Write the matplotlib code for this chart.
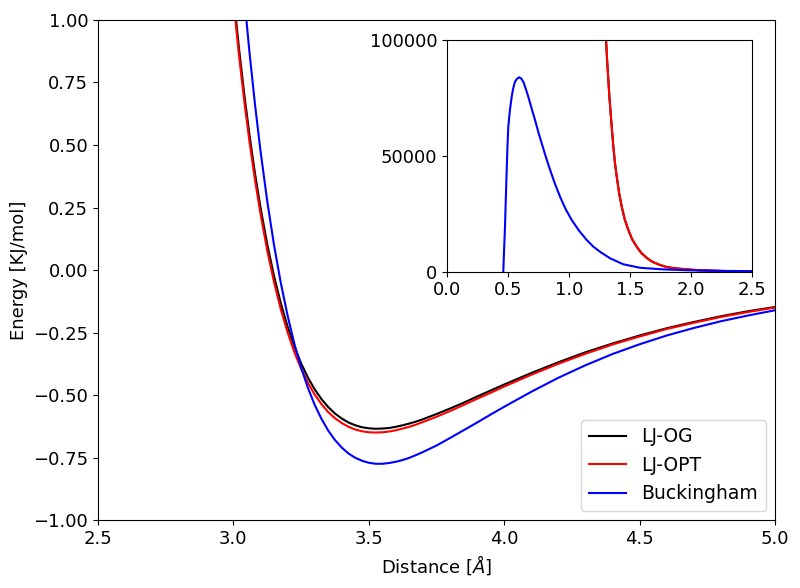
"""Lennard-Jones vs Buckingham pair potential comparison with zoomed-out inset."""

import matplotlib
matplotlib.use("Agg")
import matplotlib.pyplot as plt

# main panel: distance [A] and energies [KJ/mol]
dist = [3.00, 3.02, 3.04, 3.06, 3.08, 3.10,
        3.125, 3.15, 3.175, 3.20, 3.225, 3.25, 3.275, 3.30, 3.325, 3.35,
        3.375, 3.40, 3.425, 3.45, 3.475, 3.50, 3.525, 3.55, 3.575, 3.60,
        3.625, 3.65, 3.675, 3.70,
        3.75, 3.80, 3.85, 3.90, 3.95, 4.00,
        4.10, 4.20, 4.30, 4.40, 4.50, 4.60, 4.70, 4.80, 4.90, 5.00]

lj_og = [1.104, 0.893, 0.704, 0.535, 0.384, 0.250,
         0.103, -0.024, -0.133, -0.226, -0.306, -0.373, -0.430, -0.477,
         -0.516, -0.548, -0.574, -0.594, -0.610, -0.621, -0.629, -0.633,
         -0.635, -0.634, -0.632, -0.627, -0.621, -0.614, -0.606, -0.597,
         -0.576, -0.554, -0.531, -0.506, -0.482, -0.458,
         -0.412, -0.369, -0.329, -0.294, -0.262, -0.233, -0.208, -0.185,
         -0.165, -0.148]

lj_opt = [1.076, 0.865, 0.677, 0.508, 0.358, 0.225,
          0.078, -0.048, -0.157, -0.249, -0.328, -0.395, -0.451, -0.498,
          -0.536, -0.568, -0.593, -0.612, -0.627, -0.638, -0.645, -0.649,
          -0.650, -0.649, -0.646, -0.641, -0.634, -0.627, -0.618, -0.608,
          -0.587, -0.564, -0.540, -0.515, -0.491, -0.466,
          -0.419, -0.375, -0.335, -0.298, -0.266, -0.236, -0.211, -0.188,
          -0.168, -0.150]

buck = [1.622, 1.342, 1.090, 0.864, 0.660, 0.477,
        0.275, 0.100, -0.051, -0.182, -0.294, -0.390, -0.471, -0.539,
        -0.595, -0.642, -0.680, -0.710, -0.734, -0.751, -0.763, -0.771,
        -0.775, -0.775, -0.772, -0.767, -0.760, -0.751, -0.740, -0.728,
        -0.702, -0.672, -0.641, -0.610, -0.578, -0.547,
        -0.487, -0.431, -0.381, -0.336, -0.297, -0.262, -0.232, -0.205,
        -0.182, -0.161]

# inset: short-range behaviour
in_dist_buck = [0.455, 0.459, 0.466, 0.473, 0.480, 0.487, 0.493, 0.500,
                0.514, 0.528, 0.541, 0.555, 0.572, 0.590, 0.607, 0.623,
                0.643, 0.664, 0.691, 0.719, 0.746, 0.774, 0.808, 0.843,
                0.882, 0.924, 0.970, 1.020, 1.080, 1.143, 1.195, 1.252,
                1.334, 1.443, 1.580, 1.770, 1.989, 2.250, 2.500]
in_buck = [-20000, 0, 10000, 19400, 32000, 43900, 53500, 62600,
           70000, 75500, 79300, 82000, 83300, 83900, 83300, 82000,
           79000, 75500, 70500, 65500, 60300, 55400, 49500, 43900,
           38000, 32400, 27000, 22300, 17700, 13700, 10900, 8600,
           5800, 3200, 1700, 1000, 600, 350, 250]

in_dist_lj = [1.280, 1.301, 1.310, 1.320, 1.329, 1.339, 1.350, 1.361,
              1.374, 1.389, 1.408, 1.430, 1.455, 1.484, 1.515, 1.552,
              1.590, 1.634, 1.680, 1.743, 1.800, 1.880, 1.970, 2.071,
              2.300, 2.500]
in_lj_og = [125000, 100000, 91000, 82700, 75200, 68400, 61000, 54000,
            47000, 41000, 34000, 28000, 22500, 18000, 14000, 10800,
            8100, 6000, 4300, 2900, 2000, 1400, 1000, 600,
            250, 120]
in_lj_opt = [126000, 100500, 91300, 83000, 75300, 68400, 61000, 54000,
             47000, 41000, 34000, 28000, 22500, 18000, 14000, 10800,
             8100, 6000, 4300, 2900, 2000, 1400, 1000, 600,
             250, 120]

FS = 13

fig = plt.figure(figsize=(8, 5.88), dpi=100)
ax = fig.add_axes([0.1225, 0.1156, 0.84625, 0.8504])
ax.plot(dist, lj_og, color="black", lw=1.5, label="LJ-OG")
ax.plot(dist, lj_opt, color="red", lw=1.5, label="LJ-OPT")
ax.plot(dist, buck, color="blue", lw=1.5, label="Buckingham")
ax.set_xlim(2.5, 5.0)
ax.set_ylim(-1.0, 1.0)
ax.set_yticks([-1.0, -0.75, -0.5, -0.25, 0.0, 0.25, 0.5, 0.75, 1.0])
ax.set_xlabel(r"Distance [$\AA$]", fontsize=FS)
ax.set_ylabel("Energy [KJ/mol]", fontsize=FS)
ax.tick_params(labelsize=FS)
ax.legend(loc="lower right", fontsize=13.5)

ins = fig.add_axes([0.5591, 0.5379, 0.3813, 0.3941])
ins.plot(in_dist_lj, in_lj_og, color="black", lw=1.5)
ins.plot(in_dist_lj, in_lj_opt, color="red", lw=1.5)
ins.plot(in_dist_buck, in_buck, color="blue", lw=1.5)
ins.set_xlim(0, 2.5)
ins.set_ylim(0, 100000)
ins.set_xticks([0.0, 0.5, 1.0, 1.5, 2.0, 2.5])
ins.set_yticks([0, 50000, 100000])
ins.tick_params(labelsize=FS)

fig.savefig("out.png", dpi=100)
